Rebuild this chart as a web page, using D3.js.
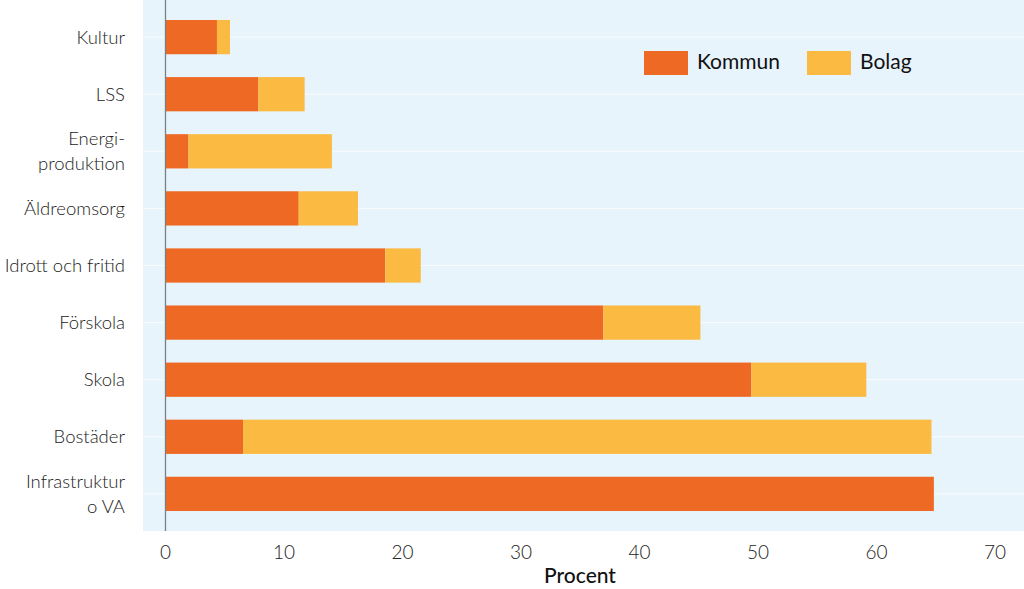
<!DOCTYPE html>
<html><head><meta charset="utf-8">
<script src="https://cdn.jsdelivr.net/npm/d3@7"></script>
<style>body{margin:0;background:#fff}svg{display:block;font-family:Lato,"Open Sans",sans-serif}</style>
</head><body><svg id="c" width="1024" height="589"></svg>
<script>
const categories = ["Kultur","LSS","Energi-\nproduktion","Äldreomsorg","Idrott och fritid","Förskola","Skola","Bostäder","Infrastruktur\no VA"];
const kommun = [4.3, 7.8, 1.9, 11.2, 18.5, 36.9, 49.4, 6.5, 64.8];
const bolag  = [1.1, 3.9, 12.1, 5.0, 3.0, 8.2, 9.7, 58.1, 0];
const xTicks = [0,10,20,30,40,50,60,70];
const seriesNames = ["Kommun","Bolag"];
const colors = ["#EE6A24","#FBBA42"];

const svg = d3.select("#c");
const x = d3.scaleLinear().domain([0,70]).range([165, 994.5]);
const y = d3.scaleBand().domain(categories).range([0,531]).paddingInner(0.4).paddingOuter(0.35);

svg.append("rect").attr("x",143).attr("y",0).attr("width",1024-143).attr("height",531).attr("fill","#E8F4FC");

// faint gridlines at band centers
svg.append("g").selectAll("line").data(categories).join("line")
  .attr("x1",143).attr("x2",1024)
  .attr("y1",d=>y(d)+y.bandwidth()/2).attr("y2",d=>y(d)+y.bandwidth()/2)
  .attr("stroke","#ffffff").attr("stroke-opacity",0.7).attr("stroke-width",1);

const data = categories.map((c,i)=>({cat:c, Kommun:kommun[i], Bolag:bolag[i]}));
const stack = d3.stack().keys(seriesNames)(data);
svg.append("g").selectAll("g").data(stack).join("g").attr("fill",(d,i)=>colors[i])
  .selectAll("rect").data(d=>d).join("rect")
  .attr("x",d=>x(d[0])+1).attr("width",d=>Math.max(0,x(d[1])-x(d[0])))
  .attr("y",d=>y(d.data.cat)).attr("height",y.bandwidth());

// axis line
svg.append("line").attr("x1",165.5).attr("x2",165.5).attr("y1",0).attr("y2",531).attr("stroke","#7a7f86").attr("stroke-width",1.3);

// x axis
const xa = svg.append("g").attr("transform","translate(0,531)")
  .call(d3.axisBottom(x).tickValues(xTicks).tickSize(0).tickPadding(10));
xa.select(".domain").remove();
xa.selectAll("text").attr("font-size",19).attr("font-weight",300).attr("fill","#222").attr("font-family","Lato,sans-serif").attr("dy","0.95em");

svg.append("text").attr("x",580).attr("y",583).attr("text-anchor","middle").attr("font-size",21).attr("font-weight",500).attr("fill","#111").text("Procent");

// y labels
const yl = svg.append("g");
categories.forEach(c=>{
  const lines = c.split("\n");
  const cy = y(c)+y.bandwidth()/2;
  const t = yl.append("text").attr("x",125).attr("text-anchor","end").attr("font-size",18.5).attr("font-weight",300).attr("fill","#222");
  lines.forEach((l,i)=>{
    t.append("tspan").attr("x",125).attr("y",cy + (i-(lines.length-1)/2)*25).attr("dy","0.35em").text(l);
  });
});

// legend
const leg = svg.append("g");
const lx = [644, 807];
seriesNames.forEach((s,i)=>{
  leg.append("rect").attr("x",lx[i]).attr("y",51).attr("width",44).attr("height",24).attr("fill",colors[i]);
  leg.append("text").attr("x",lx[i]+53).attr("y",62).attr("dy","0.35em").attr("font-size",21).attr("font-weight",400).attr("fill","#111").text(s);
});
</script></body></html>
